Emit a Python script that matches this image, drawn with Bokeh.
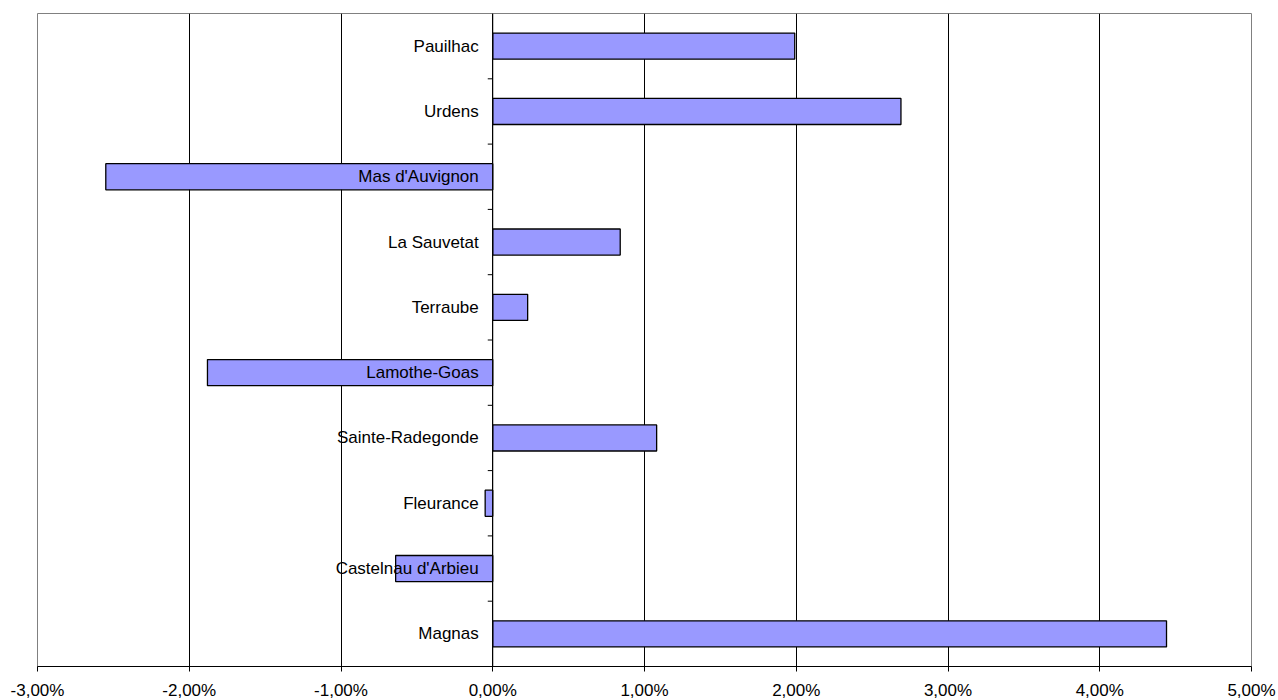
from bokeh.plotting import figure
from bokeh.models import ColumnDataSource, FixedTicker, Range1d, Span
from bokeh.core.properties import value
from bokeh.embed import file_html
from bokeh.resources import INLINE

# Communes, listed top to bottom, and their change in percent
communes = ["Pauilhac", "Urdens", "Mas d'Auvignon", "La Sauvetat", "Terraube",
            "Lamothe-Goas", "Sainte-Radegonde", "Fleurance",
            "Castelnau d'Arbieu", "Magnas"]
variation = [1.99, 2.69, -2.55, 0.84, 0.23, -1.88, 1.08, -0.05, -0.64, 4.44]

x_ticks = [-3, -2, -1, 0, 1, 2, 3, 4, 5]
x_tick_labels = ["-3,00%", "-2,00%", "-1,00%", "0,00%", "1,00%",
                 "2,00%", "3,00%", "4,00%", "5,00%"]

FONT = "Liberation Sans"
FONT_SIZE = "17px"
n = len(communes)
ypos = [n - 1 - i + 0.5 for i in range(n)]

src = ColumnDataSource(dict(name=communes, val=variation, y=ypos))

FRAME_W, FRAME_H = 1214, 653
p = figure(frame_width=FRAME_W, frame_height=FRAME_H,
           output_backend="svg", toolbar_location=None,
           x_range=Range1d(x_ticks[0], x_ticks[-1]), y_range=Range1d(0, n),
           min_border_left=37, min_border_right=27, min_border_top=13,
           min_border_bottom=30)
p.background_fill_color = "white"
p.border_fill_color = "white"
p.outline_line_color = "#808080"
p.outline_line_width = 1

# vertical gridlines at every percent
p.xgrid.ticker = FixedTicker(ticks=x_ticks)
p.xgrid.grid_line_color = "black"
p.xgrid.grid_line_width = 1
p.ygrid.visible = False

p.yaxis.visible = False
xa = p.xaxis[0]
xa.ticker = FixedTicker(ticks=x_ticks)
xa.major_label_overrides = {t: l for t, l in zip(x_ticks, x_tick_labels)}
xa.axis_line_color = "black"
xa.major_tick_line_color = "black"
xa.major_tick_in = 0
xa.major_tick_out = 5
xa.minor_tick_line_color = None
xa.major_label_standoff = 9
xa.major_label_text_font = FONT
xa.major_label_text_font_size = FONT_SIZE
xa.major_label_text_color = "black"

p.hbar(y="y", left=0, right="val", height=0.4, source=src,
       fill_color="#9999FF", line_color="black", line_width=1.3)

# category axis drawn along the zero line
p.add_layout(Span(location=0, dimension="height", line_color="black", line_width=1))
px_per_unit = FRAME_W / (x_ticks[-1] - x_ticks[0])
tick_len = 5 / px_per_unit
bounds = list(range(1, n))
p.segment(x0=[0] * len(bounds), x1=[-tick_len] * len(bounds), y0=bounds, y1=bounds,
          line_color="black", line_width=1)

p.text(x=0, y="y", text="name", source=src, x_offset=-14,
       text_align="right", text_baseline="middle",
       text_font=value(FONT), text_font_size=FONT_SIZE, text_color="black")

open("out.html", "w").write(file_html(p, INLINE))
